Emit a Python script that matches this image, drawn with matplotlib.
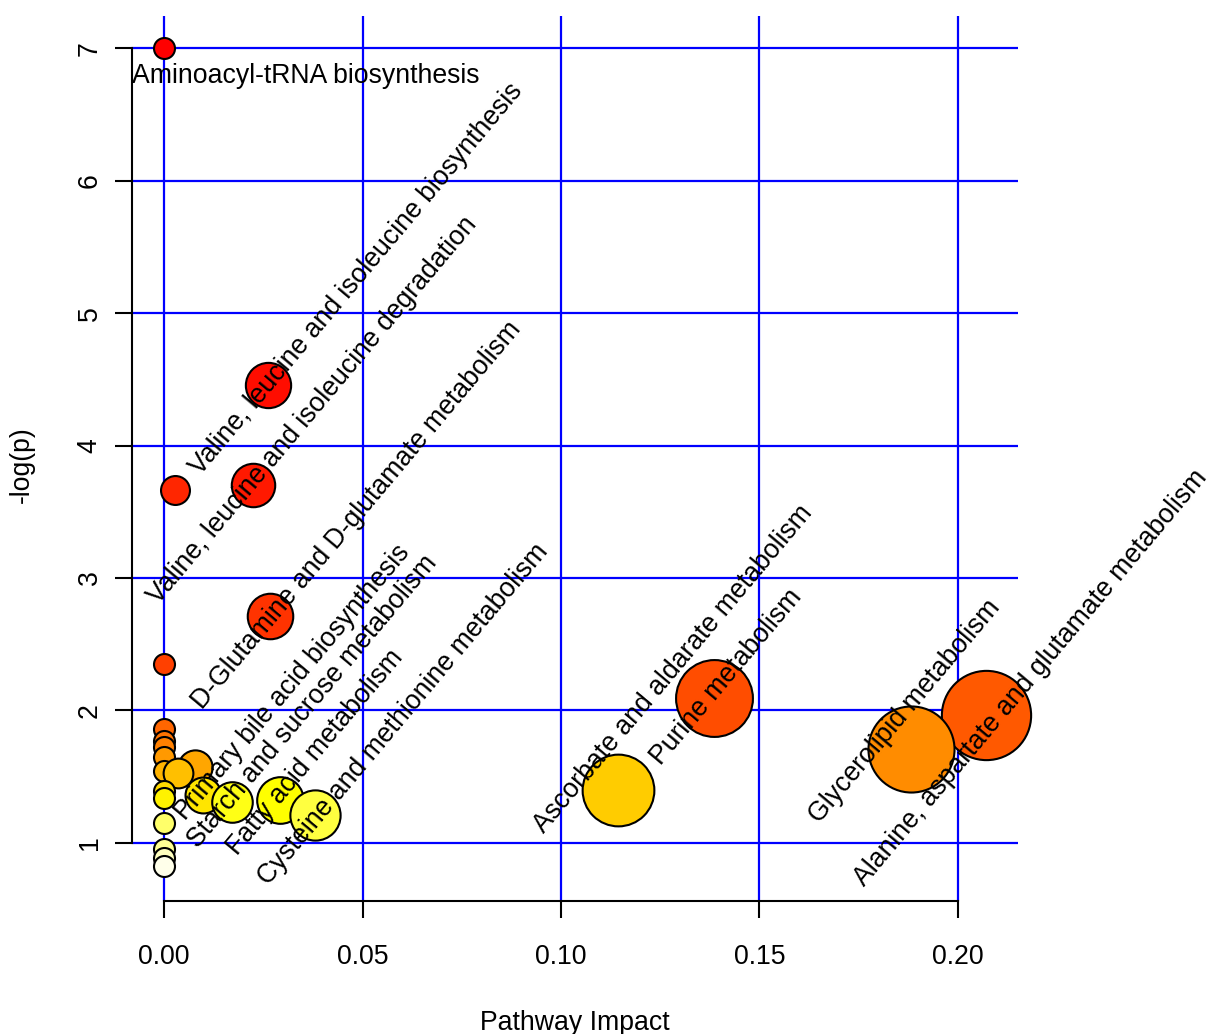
import colorsys

import numpy as np
import matplotlib
matplotlib.use("Agg")
import matplotlib.pyplot as plt

plt.rcParams["font.family"] = ["Liberation Sans", "DejaVu Sans"]

# pathway impact vs -log(p), one entry per pathway (sorted by significance)
impact = [0.0, 0.0262, 0.0224, 0.0028, 0.0267, 0.0, 0.1387, 0.2071,
          0.0, 0.0, 0.0, 0.1882, 0.0, 0.0078, 0.0, 0.0034, 0.1144,
          0.0, 0.0099, 0.0, 0.0292, 0.0170, 0.0380, 0.0, 0.0, 0.0, 0.0]
neg_log_p = [7.00, 4.457, 3.700, 3.664, 2.713, 2.351, 2.090, 1.965,
             1.860, 1.765, 1.720, 1.704, 1.651, 1.575, 1.538, 1.525, 1.395,
             1.387, 1.362, 1.336, 1.325, 1.307, 1.210, 1.150, 0.955, 0.885, 0.825]
pathway = ["Aminoacyl-tRNA biosynthesis",
           "Valine, leucine and isoleucine biosynthesis",
           "Valine, leucine and isoleucine degradation",
           "",
           "D-Glutamine and D-glutamate metabolism",
           "",
           "Purine metabolism",
           "Alanine, aspartate and glutamate metabolism",
           "", "", "",
           "Glycerolipid metabolism",
           "", "", "", "",
           "Ascorbate and aldarate metabolism",
           "",
           "Primary bile acid biosynthesis",
           "",
           "Fatty acid metabolism",
           "Starch and sucrose metabolism",
           "Cysteine and methionine metabolism",
           "", "", "", ""]

x_ticks = [0.00, 0.05, 0.10, 0.15, 0.20]
y_ticks = [1, 2, 3, 4, 5, 6, 7]

# label placement: (dx, dy) in pixels from the circle centre (dy up), rotation
label_pos = {
    "Aminoacyl-tRNA biosynthesis": (142, -28, 0),
    "Valine, leucine and isoleucine biosynthesis": (88, 106, 50),
    "Valine, leucine and isoleucine degradation": (60, 75, 50),
    "D-Glutamine and D-glutamate metabolism": (87, 101, 50),
    "Purine metabolism": (12, 21, 50),
    "Alanine, aspartate and glutamate metabolism": (45, 37, 50),
    "Glycerolipid metabolism": (-6, 38, 50),
    "Ascorbate and aldarate metabolism": (55, 121, 50),
    "Primary bile acid biosynthesis": (89, 112, 50),
    "Fatty acid metabolism": (35, 47, 50),
    "Starch and sucrose metabolism": (81, 100, 50),
    "Cysteine and methionine metabolism": (88, 100, 50),
}

FS = 19.2


def heat_colors(n):
    # same ramp as R's heat.colors(): red -> yellow, then fading to white
    j = n // 4
    i = n - j
    cols = [colorsys.hsv_to_rgb(h, 1, 1) for h in np.linspace(0, 1 / 6, i)]
    if j > 0:
        cols += [colorsys.hsv_to_rgb(1 / 6, s, 1)
                 for s in np.linspace(1 - 1 / (2 * j), 1 / (2 * j), j)]
    return cols


DPI = 100
fig = plt.figure(figsize=(12.11, 10.34), dpi=DPI)
ax = fig.add_axes([132 / 1211, 133 / 1034, 886 / 1211, 885 / 1034])
ax.set_xlim(-0.00811, 0.2152)
ax.set_ylim(0.5597, 7.244)

ax.set_axisbelow(True)
ax.grid(True, color="#0000ff", lw=1.6)

x = np.array(impact)
y = np.array(neg_log_p)
colors = heat_colors(len(x))
radius_px = 10.5 + 75 * np.sqrt(x)
sizes = (2 * radius_px * 72 / DPI) ** 2
for k in range(len(x)):
    ax.scatter(x[k], y[k], s=sizes[k], color=colors[k], edgecolor="black",
               linewidth=1.5, zorder=3, clip_on=False)

for k, name in enumerate(pathway):
    if not name:
        continue
    dx, dy, rot = label_pos[name]
    ax.annotate(name, (x[k], y[k]), xytext=(dx, dy), textcoords="offset pixels",
                rotation=rot, ha="center", va="center", fontsize=FS, zorder=4)

for side in ["top", "right"]:
    ax.spines[side].set_visible(False)
ax.spines["left"].set_bounds(1, 7)
ax.spines["bottom"].set_bounds(0, 0.2)
for side in ["left", "bottom"]:
    ax.spines[side].set_linewidth(1.5)

ax.set_xticks(x_ticks)
ax.set_xticklabels([f"{t:.2f}" for t in x_ticks])
ax.set_yticks(y_ticks)
ax.tick_params(axis="both", direction="out", length=12.2, width=1.5,
               labelsize=FS)
ax.tick_params(axis="x", pad=19)
ax.tick_params(axis="y", pad=9, labelrotation=90)
for lbl in ax.get_yticklabels():
    lbl.set_va("center")

ax.set_xlabel("Pathway Impact", fontsize=FS)
ax.set_ylabel("-log(p)", fontsize=FS)
ax.xaxis.set_label_coords(0.5, -0.1235)
ax.yaxis.set_label_coords(-0.110, 0.493)

fig.savefig("out.png", dpi=DPI)
